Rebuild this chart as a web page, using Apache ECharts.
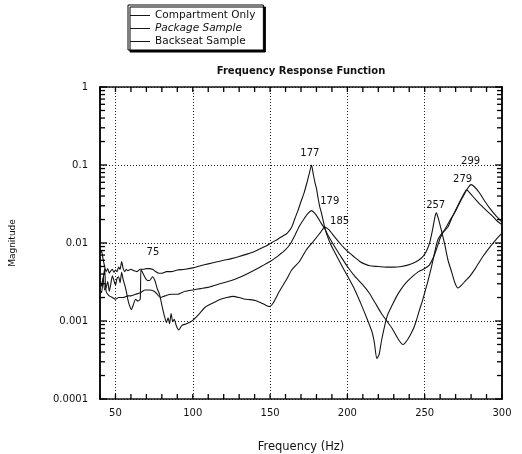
<!DOCTYPE html>
<html>
<head>
<meta charset="utf-8">
<script src="https://cdn.jsdelivr.net/npm/echarts@6/dist/echarts.min.js"></script>
<style>html,body{margin:0;padding:0;background:#fff}#c{width:522px;height:454px}</style>
</head>
<body>
<div id="c"></div>
<script>
const seriesNames = ['Compartment Only', 'Package Sample', 'Backseat Sample'];

const compartmentFreq = [40,41,42,43,44,45,46,47,48,49,50,51,52,53,54,55,56,57,58,60,62,64,66,68,70,72,74,76,78,80,83,86,90,95,100,105,110,115,120,125,130,135,140,145,148,151,155,158,161,164,166,168,170,172,174,175.5,176.8,178,179,180,181,182,183.2,185,186.4,189,192,196,200,204,208,211,214,216,217.5,219,220.5,222,224,226,229,232,235,238,242,246,250,253,256,258,260,262,265,268,271,274,276,277,278,280,283,286,290,294,297,300];
const compartmentMag = [0.0072,0.0079,0.0062,0.0050,0.0043,0.0047,0.0041,0.0044,0.0046,0.0042,0.0045,0.0043,0.0049,0.0046,0.0058,0.0047,0.0043,0.0046,0.0044,0.0046,0.0044,0.0043,0.0046,0.0046,0.0047,0.0047,0.0046,0.0043,0.0041,0.0041,0.0043,0.0043,0.0045,0.0046,0.0048,0.0051,0.0054,0.0057,0.0060,0.0063,0.0067,0.0072,0.0078,0.0087,0.0093,0.0101,0.0112,0.0122,0.0133,0.0160,0.0205,0.0260,0.0340,0.0440,0.0610,0.0800,0.1000,0.0750,0.0600,0.0500,0.0380,0.0300,0.0243,0.0170,0.0134,0.0098,0.0075,0.0053,0.0038,0.0027,0.0018,0.0013,0.00092,0.00072,0.00052,0.00033,0.00037,0.00055,0.00085,0.0012,0.0016,0.0021,0.0026,0.0031,0.0037,0.0043,0.0047,0.0052,0.0068,0.0088,0.0115,0.0138,0.0160,0.0220,0.0290,0.0380,0.0450,0.0482,0.0465,0.0420,0.0360,0.0310,0.0260,0.0220,0.0190,0.0172];

const packageFreq = [40,41,42,43,43.5,44,45,46,48,50,52,55,58,60,63,66,69,72,75,77,79,82,86,90,95,100,105,110,115,120,125,130,135,140,145,150,155,160,163,166,169,172,174.5,176.8,179,181,183,185.3,188,192,196,200,205,210,214,218,222,225.2,229,233,236,239,242.4,244.5,246.7,248.5,250,252,254,255.5,257,258.5,260.5,262.9,266,269.3,272,275,278,280,282,285.5,289,292,296,300];
const packageMag = [0.0025,0.0023,0.0034,0.0047,0.0030,0.0024,0.0022,0.0021,0.0020,0.0019,0.0020,0.0020,0.0021,0.0021,0.0022,0.0023,0.0025,0.0025,0.0024,0.0022,0.0020,0.0021,0.0022,0.0022,0.0024,0.0025,0.0026,0.0027,0.0029,0.0031,0.0033,0.0036,0.0040,0.0045,0.0051,0.0058,0.0068,0.0082,0.0097,0.0125,0.0165,0.0205,0.0240,0.0260,0.0240,0.0210,0.0180,0.0153,0.0120,0.0088,0.0066,0.0050,0.0037,0.0029,0.0023,0.0017,0.00125,0.00102,0.00080,0.00058,0.00050,0.00058,0.00077,0.0010,0.0014,0.0018,0.0023,0.0032,0.0046,0.0062,0.0085,0.0110,0.0128,0.0148,0.0190,0.0243,0.0310,0.0400,0.0510,0.0560,0.0530,0.0437,0.0340,0.0280,0.0225,0.0185];

const backseatFreq = [40,41,42,43,44,45,46,47,48,49,50,51,52,53,54,55,56,57,58,59,60.3,61.5,63,64.5,66,66.5,68,70,72,74,75.5,77,78.5,80,81.7,83,84,85,86,87,88,89.5,91,93,96,100,104.6,108,113,118,122,126,130,134,137,141,144,147,149.5,152,156,160.6,164,169,173.5,178,183,185.3,188,191,195,198,201.5,205,208,211,214.4,220,225,230,235,239,242.4,246,248.8,251,253.2,255,256.5,257.5,258.7,260.7,263,265,267.5,269.5,271.5,274,276.5,279,283,287.6,292,296,300];
const backseatMag = [0.0035,0.0028,0.0036,0.0025,0.0027,0.0032,0.0024,0.0030,0.0038,0.0033,0.0029,0.0035,0.0037,0.0031,0.0042,0.0034,0.0029,0.0024,0.0019,0.0016,0.0014,0.0016,0.0019,0.0018,0.0019,0.0046,0.0040,0.0034,0.0033,0.0037,0.0033,0.0026,0.0022,0.0016,0.00115,0.00095,0.0011,0.00092,0.00125,0.00098,0.00105,0.00085,0.00077,0.00088,0.00092,0.00102,0.00126,0.0015,0.0017,0.0019,0.0020,0.00207,0.0020,0.0019,0.00188,0.00182,0.00172,0.0016,0.00153,0.0017,0.0024,0.0034,0.0045,0.0058,0.0082,0.0105,0.0140,0.0160,0.0148,0.0125,0.0100,0.0086,0.0074,0.0065,0.0058,0.0054,0.0051,0.0050,0.0049,0.0049,0.0050,0.0052,0.0055,0.0060,0.0067,0.0078,0.0100,0.0145,0.0210,0.0243,0.0210,0.0148,0.0095,0.0061,0.0042,0.0031,0.00265,0.0029,0.0033,0.0037,0.0048,0.0067,0.0088,0.0110,0.0134];

const annotationText = ['75','177','179','185','257','279','299'];
const annotationFreq = [74.2,175.7,188.6,195.0,257.1,274.5,279.7];
const annotationMag = [0.0075,0.139,0.0339,0.0188,0.0301,0.0648,0.110];

const xTickLabels = [50,100,150,200,250,300];
const xMinorTicks = [40,50,60,70,80,90,100,110,120,130,140,150,160,170,180,190,200,210,220,230,240,250,260,270,280,290,300];
const yTickValues = [0.0001,0.001,0.01,0.1,1];
const yTickLabels = ['0.0001','0.001','0.01','0.1','1'];
const yMinorTicks = [];
[0.0001,0.001,0.01,0.1].forEach(d => { for (let k = 2; k <= 9; k++) yMinorTicks.push(+(d*k).toPrecision(3)); });

const X_MIN = 40, X_MAX = 300, Y_MIN = 0.0001, Y_MAX = 1;
const FONT = 'DejaVu Sans';
const INK = '#151515';
const zip = (f, m) => f.map((v, i) => [v, m[i]]);
const lineStyle = {color: INK, width: 1.1};

const chart = echarts.init(document.getElementById('c'), null, {renderer: 'canvas'});
const xBase = {type: 'value', min: X_MIN, max: X_MAX, gridIndex: 0};
const yBase = {type: 'log', logBase: 10, min: Y_MIN, max: Y_MAX, gridIndex: 0};

// tick marks drawn through the axes' own scales
function xTickItem(params, api) {
  const v = api.value(0);
  const b = api.coord([v, Y_MIN]);
  const t = api.coord([v, Y_MAX]);
  const len = 5;
  return {type: 'group', children: [
    {type: 'line', shape: {x1: b[0], y1: b[1], x2: b[0], y2: b[1] - len}, style: {stroke: '#000', lineWidth: 1.3}},
    {type: 'line', shape: {x1: t[0], y1: t[1], x2: t[0], y2: t[1] + len}, style: {stroke: '#000', lineWidth: 1.3}}
  ]};
}
function yTickItem(params, api) {
  const v = api.value(1);
  const major = api.value(0) === 1;
  const l = api.coord([X_MIN, v]);
  const r = api.coord([X_MAX, v]);
  const len = major ? 7 : 5;
  return {type: 'group', children: [
    {type: 'line', shape: {x1: l[0], y1: l[1], x2: l[0] + len, y2: l[1]}, style: {stroke: '#000', lineWidth: 1.3}},
    {type: 'line', shape: {x1: r[0], y1: r[1], x2: r[0] - len, y2: r[1]}, style: {stroke: '#000', lineWidth: 1.3}}
  ]};
}
function labelItem(params, api) {
  const p = api.coord([api.value(0), api.value(1)]);
  return {type: 'text', x: p[0], y: p[1], style: {
    text: annotationText[params.dataIndex], fill: '#111', font: '10px "' + FONT + '"',
    align: 'center', verticalAlign: 'middle'
  }};
}

chart.setOption({
  animation: false,
  backgroundColor: '#fff',
  title: {
    text: 'Frequency Response Function',
    left: 301, top: 66, textAlign: 'center', padding: 0,
    textStyle: {fontFamily: FONT, fontSize: 10, fontWeight: 'bold', color: '#111'}
  },
  legend: {
    orient: 'vertical', left: 128, top: 5,
    padding: [5, 8, 3, 2], itemGap: 2, itemWidth: 20, itemHeight: 9,
    icon: 'path://M0,4.5 L20,4.5 L20,5.5 L0,5.5 Z',
    backgroundColor: '#fff', borderColor: '#000', borderWidth: 1,
    shadowColor: '#000', shadowOffsetX: 2, shadowOffsetY: 2, shadowBlur: 0,
    textStyle: {fontFamily: FONT, fontSize: 10.5, color: '#111'},
    data: [
      {name: seriesNames[0]},
      {name: seriesNames[1], textStyle: {fontStyle: 'italic'}},
      {name: seriesNames[2]}
    ]
  },
  grid: {left: 100, top: 87, width: 402, height: 312, containLabel: false, outerBoundsMode: 'none'},
  xAxis: [
    Object.assign({}, xBase, {
      position: 'bottom',
      name: 'Frequency (Hz)', nameLocation: 'middle', nameGap: 42,
      nameTextStyle: {fontFamily: FONT, fontSize: 11.5, color: '#111'},
      axisLine: {show: true, lineStyle: {color: INK, width: 1.5}},
      axisTick: {show: false},
      axisLabel: {customValues: xTickLabels, margin: 9, fontFamily: FONT, fontSize: 10, color: '#111'},
      splitLine: {show: true, lineStyle: {color: '#222', width: 1, type: [1, 2]}}
    }),
    Object.assign({}, xBase, {
      position: 'top',
      axisLine: {show: true, lineStyle: {color: INK, width: 1.5}},
      axisTick: {show: false}, axisLabel: {show: false}, splitLine: {show: false}
    })
  ],
  yAxis: [
    Object.assign({}, yBase, {
      position: 'left',
      name: 'Magnitude', nameLocation: 'middle', nameGap: 83, nameRotate: 90,
      nameTextStyle: {fontFamily: FONT, fontSize: 9, color: '#111'},
      axisLine: {show: true, lineStyle: {color: INK, width: 2}},
      axisTick: {show: false},
      axisLabel: {
        margin: 12, fontFamily: FONT, fontSize: 10, color: '#111',
        formatter: v => yTickLabels[Math.round(Math.log10(v)) + 4]
      },
      splitLine: {show: true, lineStyle: {color: '#222', width: 1, type: [1, 2]}}
    }),
    Object.assign({}, yBase, {
      position: 'right',
      axisLine: {show: true, lineStyle: {color: INK, width: 2}},
      axisTick: {show: false}, axisLabel: {show: false}, splitLine: {show: false}
    })
  ],
  series: [
    {name: seriesNames[0], type: 'line', symbol: 'none', smooth: 0.2, lineStyle, itemStyle: {color: INK}, data: zip(compartmentFreq, compartmentMag)},
    {name: seriesNames[1], type: 'line', symbol: 'none', smooth: 0.2, lineStyle, itemStyle: {color: INK}, data: zip(packageFreq, packageMag)},
    {name: seriesNames[2], type: 'line', symbol: 'none', smooth: 0.2, lineStyle, itemStyle: {color: INK}, data: zip(backseatFreq, backseatMag)},
    {
      name: 'xTicks', type: 'custom', silent: true, clip: false, z: 10,
      renderItem: xTickItem, data: xMinorTicks.map(v => [v, Y_MIN])
    },
    {
      name: 'yTicks', type: 'custom', silent: true, clip: false, z: 10,
      renderItem: yTickItem,
      data: yTickValues.map(v => [1, v]).concat(yMinorTicks.map(v => [0, v]))
    },
    {
      name: 'peaks', type: 'custom', silent: true, clip: false,
      renderItem: labelItem,
      data: annotationFreq.map((f, i) => [f, annotationMag[i]])
    }
  ]
});
</script>
</body>
</html>
